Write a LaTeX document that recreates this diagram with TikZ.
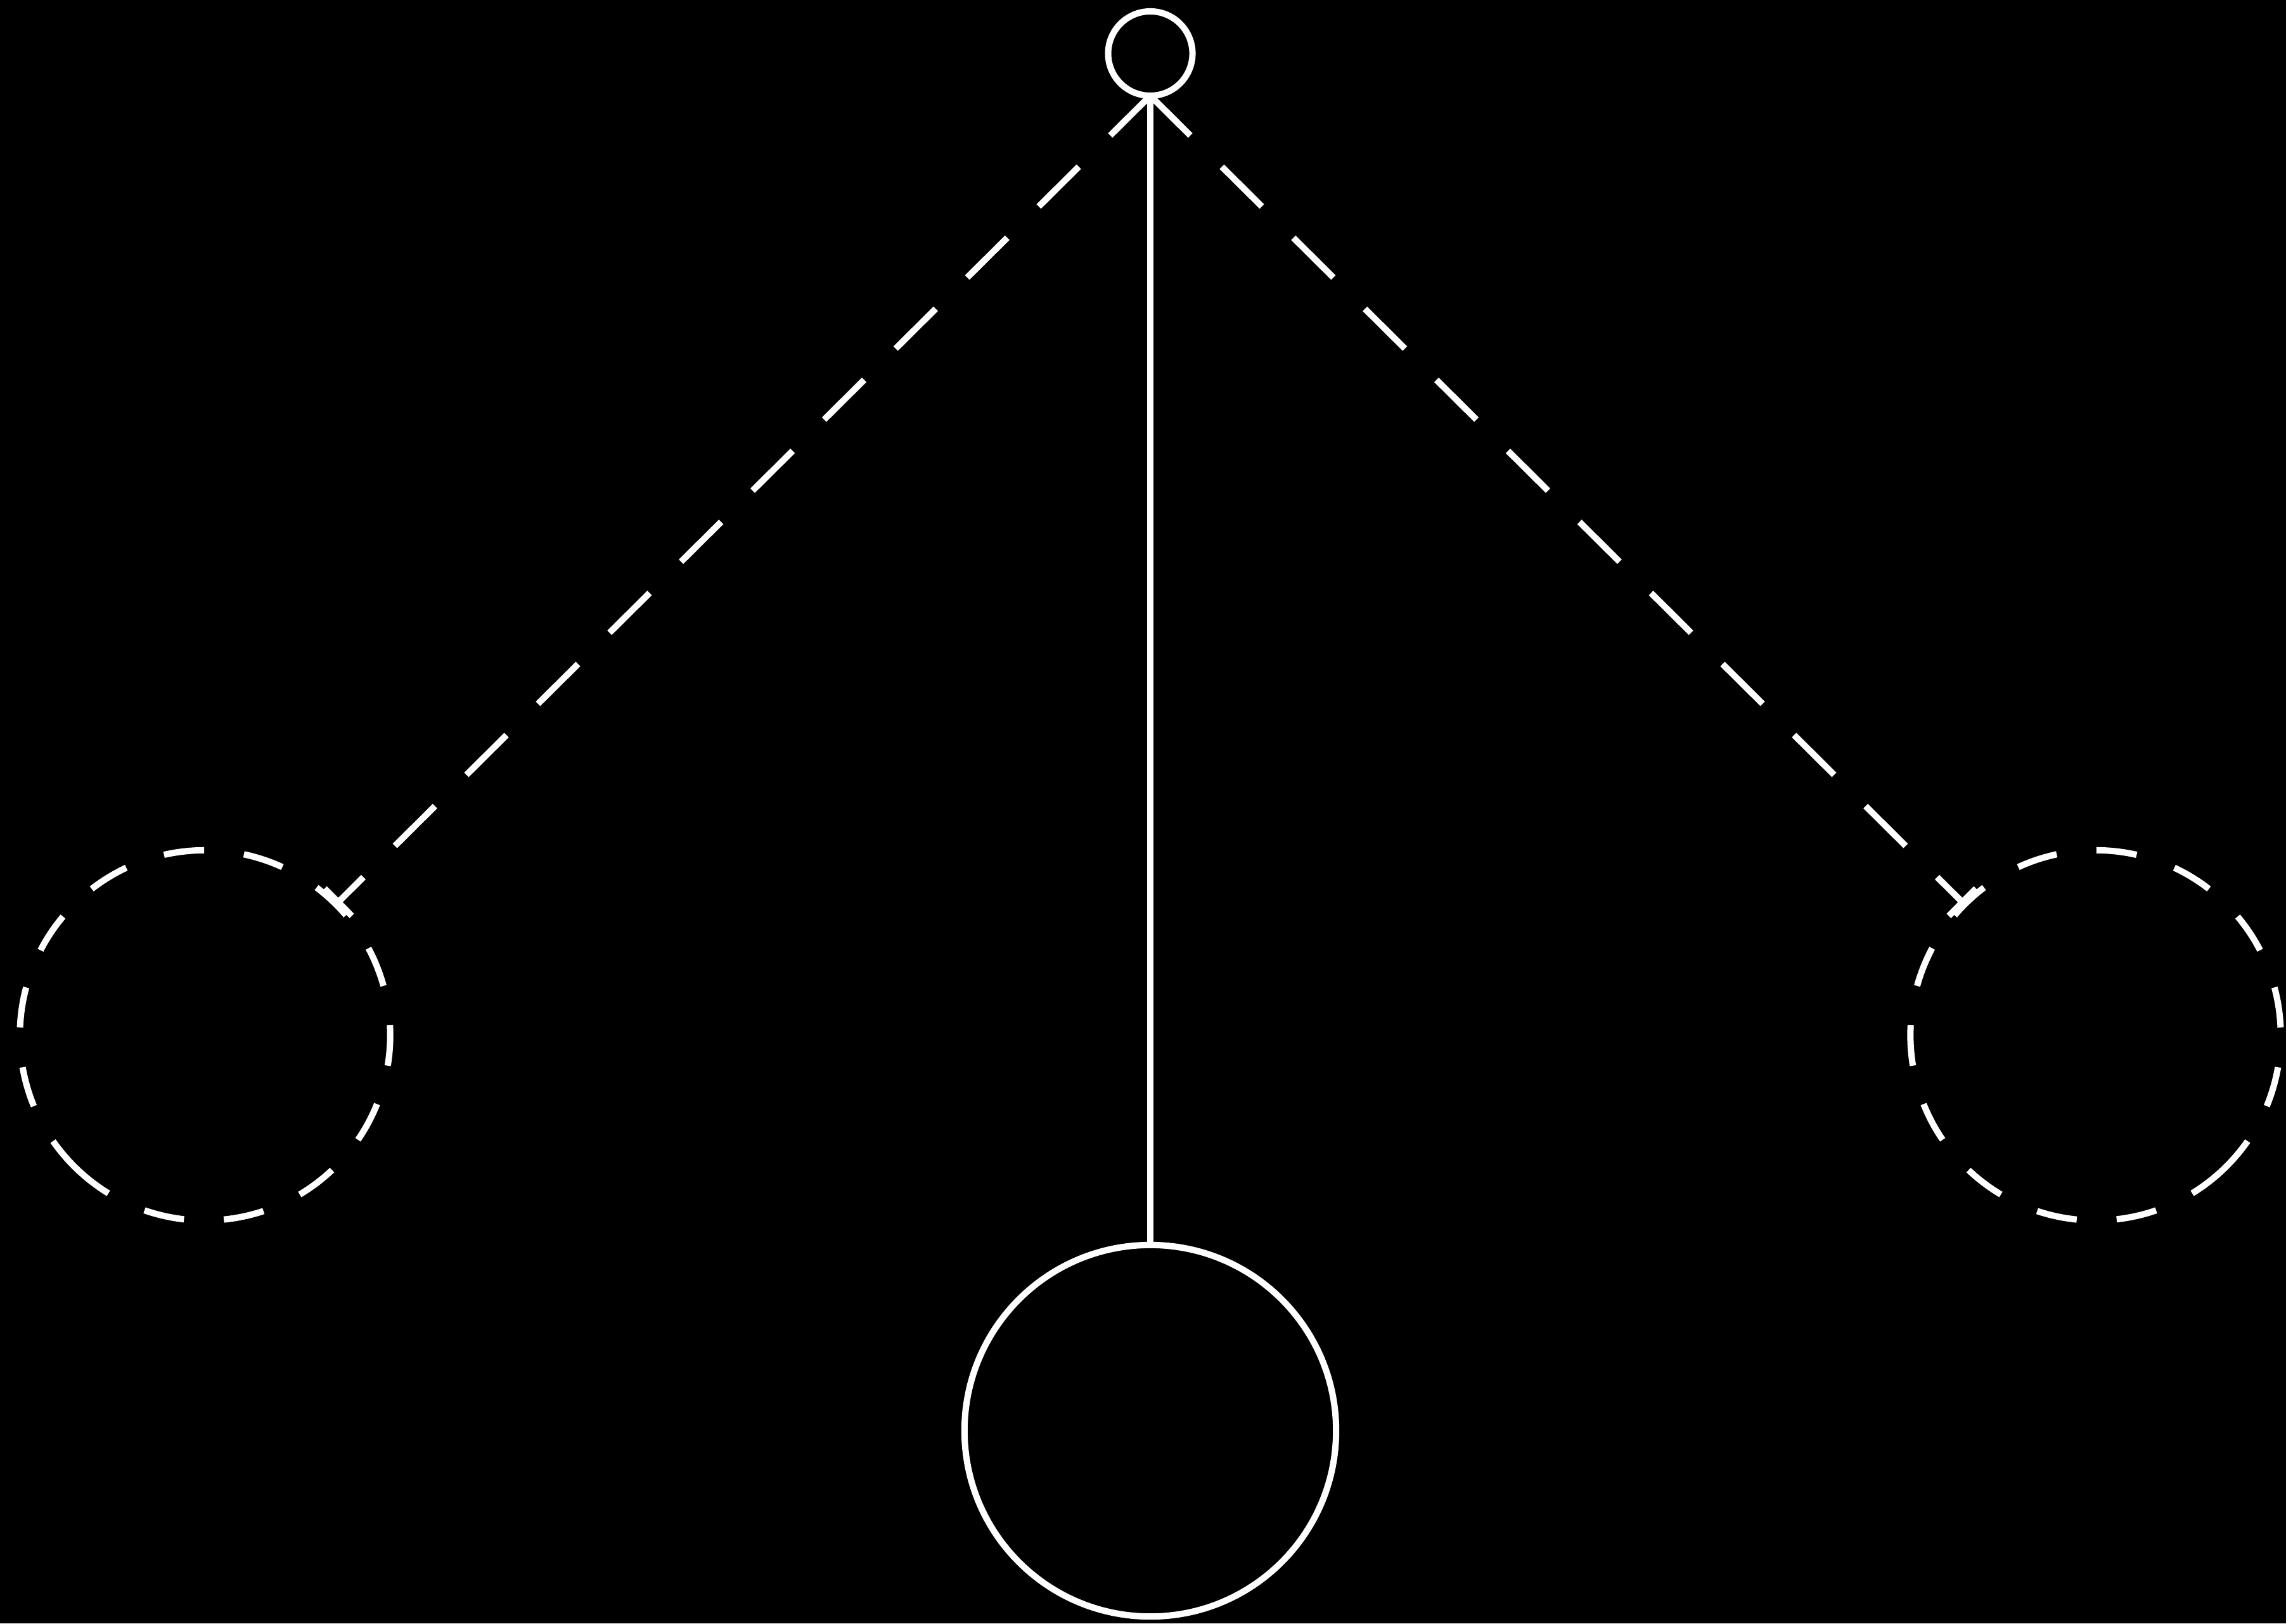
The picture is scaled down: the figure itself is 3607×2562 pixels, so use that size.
\documentclass[tikz,border=0pt]{standalone}
\usetikzlibrary{arrows.meta}
\begin{document}
\begin{tikzpicture}[x=0.01cm,y=0.01cm,
  wline/.style={draw=white,line width=0.1cm},
  ring/.style={circle,inner sep=0pt,outer sep=0pt,wline},
  ghost/.style={circle,inner sep=0pt,outer sep=0pt,draw=none,minimum size=5.84cm},
  rod/.style={wline},
  ghostrod/.style={wline,dash pattern=on 0.89cm off 0.70cm,-{Bar[width=0.61cm]}},
  ghostring/.style={wline,dash pattern=on 0.64cm off 0.63cm}]
\fill[black] (0,0) rectangle (3607,2562);
\useasboundingbox (0,0) rectangle (3607,2562);
\node[ring,minimum size=1.33cm] (pivot) at (1815,2477.5) {};
\node[ring,minimum size=5.86cm] (bob) at (1815,304) {};
\node[ghost] (left) at (323.5,928) {};
\node[ghost] (right) at (3306.5,928) {};
\draw[ghostring] (left.226) arc[start angle=226,delta angle=360,radius=2.92cm];
\draw[ghostring] (right.-46) arc[start angle=-46,delta angle=-360,radius=2.92cm];
\draw[rod] (pivot.south) -- (bob.north);
\draw[ghostrod] (pivot.south) -- (left.45);
\draw[ghostrod] (pivot.south) -- (right.135);
\end{tikzpicture}
\end{document}
